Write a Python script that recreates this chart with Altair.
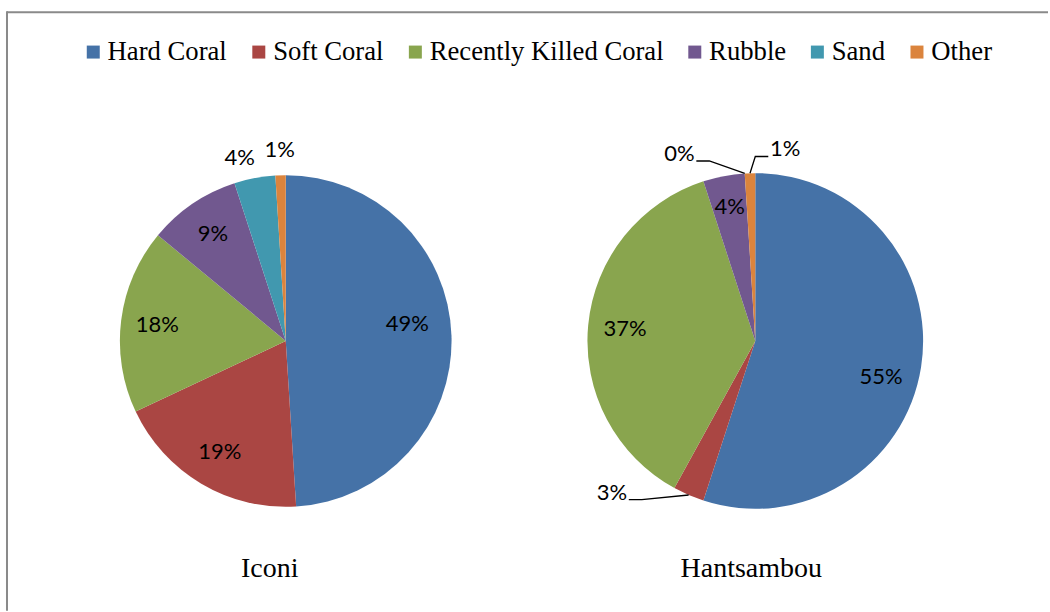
import math

import altair as alt
import pandas as pd

# Benthic cover at the two survey sites (percent of transect)
CATEGORIES = ["Hard Coral", "Soft Coral", "Recently Killed Coral", "Rubble", "Sand", "Other"]
COLORS = ["#4572A7", "#AA4643", "#89A54E", "#71588F", "#4198AF", "#DB843D"]
SITES = ["Iconi", "Hantsambou"]
ICONI = [49, 19, 18, 9, 4, 1]
HANTSAMBOU = [55, 3, 37, 4, 0, 1]

PANEL_W, PANEL_H = 440, 400
GAP = 30
TITLE_DROP = 236          # site name baseline, px below the pie centre
LABEL_FONT = "Lato"
SERIF = "Liberation Serif"

# Labels inside a slice: (angle nudge in degrees, fraction of the radius)
INSIDE = {
    "Iconi": {"Hard Coral": (-6, 0.74)},
    "Hantsambou": {"Hard Coral": (7, 0.78), "Rubble": (0, 0.815)},
}
# Labels outside the pie: (angle nudge in degrees, px beyond the rim, leader line)
OUTSIDE = {
    "Iconi": {"Sand": (-3.3, 23, False), "Other": (0, 25, False)},
    "Hantsambou": {
        "Soft Coral": (20, 41, True),
        "Sand": (-18.5, 34, True),
        "Other": (10.7, 26, True),
    },
}

color_scale = alt.Scale(domain=CATEGORIES, range=COLORS)
xs = alt.Scale(domain=[-PANEL_W / 2, PANEL_W / 2], nice=False, zero=False)
ys = alt.Scale(domain=[-PANEL_H / 2, PANEL_H / 2], nice=False, zero=False)


def pie(site, values, radius, title_dx, frame=False):
    total = sum(values)
    slices, labels, leaders = [], [], []
    start = 0
    for cat, v in zip(CATEGORIES, values):
        end = start + v
        slices.append({"category": cat, "start": start, "end": end})
        mid = math.radians((start + end) / 2 / total * 360)
        out = OUTSIDE[site].get(cat)
        if out is None:
            nudge, frac = INSIDE[site].get(cat, (0, 0.78))
            ang, rr = mid + math.radians(nudge), frac * radius
        else:
            ang, rr = mid + math.radians(out[0]), radius + out[1]
        lx, ly = rr * math.sin(ang), rr * math.cos(ang)
        labels.append({"label": f"{round(v / total * 100)}%", "x": lx, "y": ly})
        if out is not None and out[2]:
            rx, ry = radius * math.sin(mid), radius * math.cos(mid)
            side = 1 if rx > lx else -1
            edge = lx + side * 17
            yline = ly - 7
            for i, (px, py) in enumerate([(edge, yline), (edge + side * 13, yline), (rx, ry)]):
                leaders.append({"category": cat, "i": i, "x": px, "y": py})
        start = end

    arcs = alt.Chart(pd.DataFrame(slices)).mark_arc(outerRadius=radius).encode(
        theta=alt.Theta("start:Q", scale=alt.Scale(domain=[0, total], range=[0, 2 * math.pi])),
        theta2="end:Q",
        color=alt.Color(
            "category:N",
            scale=color_scale,
            sort=CATEGORIES,
            legend=alt.Legend(
                orient="none",
                legendX=14,
                legendY=-103,
                direction="horizontal",
                columns=6,
                title=None,
                symbolType="square",
                symbolSize=169,
                symbolStrokeWidth=0,
                labelFont=SERIF,
                labelFontSize=26.7,
                labelColor="black",
                labelLimit=400,
                labelOffset=1,
                columnPadding=17.7,
                padding=0,
            ),
        ),
    )

    texts = alt.Chart(pd.DataFrame(labels)).mark_text(
        font=LABEL_FONT, fontSize=22, color="black", baseline="middle", align="center"
    ).encode(
        x=alt.X("x:Q", scale=xs, axis=None),
        y=alt.Y("y:Q", scale=ys, axis=None),
        text="label:N",
    )

    # Site name under the pie
    name = alt.Chart(pd.DataFrame({"site": [site]})).mark_text(
        font=SERIF, fontSize=28, color="black", baseline="alphabetic", align="center"
    ).encode(
        x=alt.value(PANEL_W / 2 + title_dx),
        y=alt.value(PANEL_H / 2 + TITLE_DROP),
        text="site:N",
    )

    layers = [arcs, texts, name]
    if leaders:
        lines = alt.Chart(pd.DataFrame(leaders)).mark_line(color="black", strokeWidth=1.3).encode(
            x=alt.X("x:Q", scale=xs, axis=None),
            y=alt.Y("y:Q", scale=ys, axis=None),
            detail="category:N",
            order="i:Q",
        )
        layers.append(lines)

    if frame:
        # Gray outline along the top and left edge of the figure
        edge_df = pd.DataFrame({"edge": ["outline"]})
        top = alt.Chart(edge_df).mark_rule(color="#8a8a8a", strokeWidth=2).encode(
            x=alt.value(-59), x2=alt.value(983), y=alt.value(-129)
        )
        left = alt.Chart(edge_df).mark_rule(color="#8a8a8a", strokeWidth=2).encode(
            x=alt.value(-59), y=alt.value(-130), y2=alt.value(470)
        )
        layers += [top, left]

    return alt.layer(*layers).properties(width=PANEL_W, height=PANEL_H)


chart = (
    alt.hconcat(
        pie("Iconi", ICONI, 166, -16, frame=True),
        pie("Hantsambou", HANTSAMBOU, 168, -4),
        spacing=GAP,
        bounds="flush",
    )
    .properties(
        padding={"left": 5, "top": 9, "right": 0, "bottom": 0},
        autosize=alt.AutoSizeParams(type="pad"),
        background="white",
    )
    .configure_view(stroke="transparent")
)

chart.save("out.html", embed_options={"renderer": "svg", "actions": False})
